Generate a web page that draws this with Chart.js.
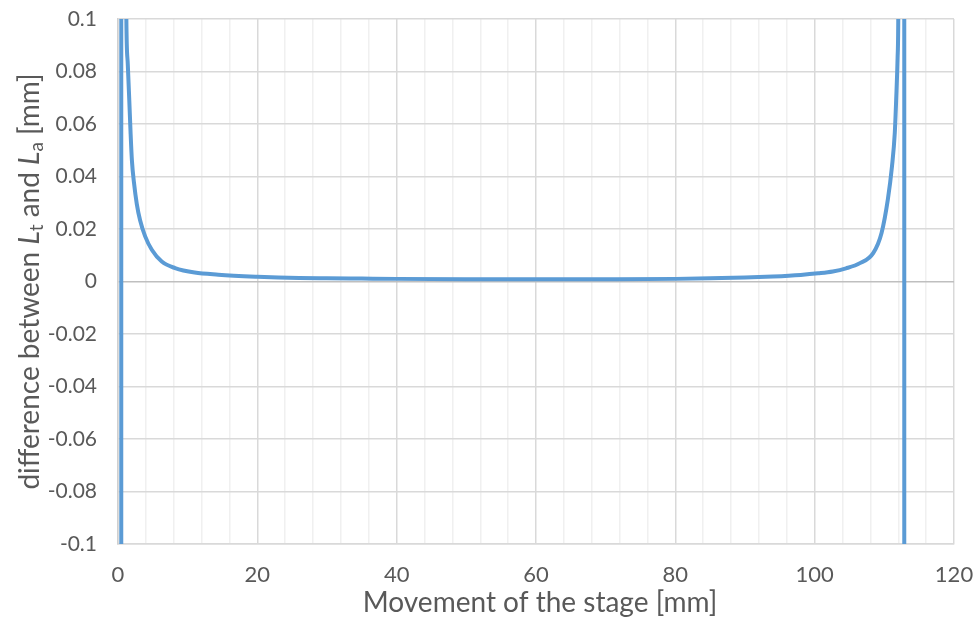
<!DOCTYPE html>
<html>
<head>
<meta charset="utf-8">
<script src="https://cdn.jsdelivr.net/npm/chart.js@4.4.1/dist/chart.umd.min.js"></script>
<style>
  html, body { margin: 0; padding: 0; background: #fff; }
  #wrap { width: 976px; height: 632px; }
</style>
</head>
<body>
<div id="wrap"><canvas id="chart" width="976" height="632"></canvas></div>
<script>
// stage position [mm] and difference between Lt and La [mm]
const stageMm = [0.46, 0.48, 0.7, 0.9, 1.2, 1.4, 1.62, 1.8, 2.0, 2.3, 2.7, 3.18, 3.9, 4.85, 6.28, 8.2,
  11, 14.4, 20, 23, 26, 30, 35, 40, 50, 60, 70, 80, 85, 90, 94, 98, 100.5, 102.6, 104.5, 106.5,
  108.4, 109.6, 110.5, 111.1, 111.5, 111.7, 111.9, 112.0, 112.3, 112.6, 112.85, 112.87];
const diffMm = [-10, 10, 0.6, 0.25, 0.1, 0.083, 0.069, 0.057, 0.046, 0.0375, 0.0295, 0.0232, 0.0172, 0.0121, 0.0076, 0.0051,
  0.0034, 0.0026, 0.0018, 0.0015, 0.0013, 0.0012, 0.0011, 0.0010, 0.0009, 0.0009, 0.0009, 0.0010, 0.0012, 0.0015, 0.0019, 0.0025, 0.0031, 0.0038, 0.0050, 0.0070,
  0.0108, 0.0185, 0.0312, 0.0439, 0.0566, 0.0693, 0.085, 0.1, 0.3, 1, 10, -10];

const xMin = 0, xMax = 120, xMinorStep = 4, xMajorStep = 20;
const yMin = -0.1, yMax = 0.1, yStep = 0.02;

const xTitle = "Movement of the stage [mm]";
// y title pieces: [text, style] with style n = normal, i = italic, s = subscript
const yTitleParts = [["difference between ", "n"], ["L", "i"], ["t", "s"], [" and ", "n"], ["L", "i"], ["a", "s"], [" [mm]", "n"]];

const textColor = "#595959";
const fontFamily = "Lato, 'Open Sans', sans-serif";

const points = stageMm.map((x, i) => ({ x: x, y: diffMm[i] }));

const titlePlugin = {
  id: "axisTitles",
  afterDraw(chart) {
    const ctx = chart.ctx;
    const area = chart.chartArea;
    ctx.save();
    ctx.fillStyle = textColor;
    ctx.textBaseline = "middle";

    // x title
    ctx.font = "28px " + fontFamily;
    ctx.textAlign = "center";
    ctx.fillText(xTitle, 540, 603);

    // y title, rotated, with italic L and subscripts
    const fonts = {
      n: "28px " + fontFamily,
      i: "italic 28px " + fontFamily,
      s: "19px " + fontFamily
    };
    let total = 0;
    yTitleParts.forEach(p => { ctx.font = fonts[p[1]]; total += ctx.measureText(p[0]).width; });
    ctx.translate(30, (area.top + area.bottom) / 2);
    ctx.rotate(-Math.PI / 2);
    ctx.textAlign = "left";
    let pos = -total / 2;
    yTitleParts.forEach(p => {
      ctx.font = fonts[p[1]];
      ctx.fillText(p[0], pos, p[1] === "s" ? 7 : 0);
      pos += ctx.measureText(p[0]).width;
    });
    ctx.restore();
  }
};

new Chart(document.getElementById("chart"), {
  type: "line",
  data: {
    datasets: [{
      data: points,
      borderColor: "#5b9bd5",
      borderWidth: 4,
      pointRadius: 0,
      fill: false,
      cubicInterpolationMode: "monotone",
      clip: 0
    }]
  },
  plugins: [titlePlugin],
  options: {
    responsive: false,
    animation: false,
    layout: { padding: { top: 19, right: 22, left: 0, bottom: 0 } },
    plugins: {
      legend: { display: false },
      tooltip: { enabled: false }
    },
    scales: {
      x: {
        type: "linear",
        min: xMin,
        max: xMax,
        afterFit: scale => {
          scale.height = 88;
          scale.paddingLeft = 0;
          scale.paddingRight = 0;
        },
        ticks: {
          stepSize: xMinorStep,
          autoSkip: false,
          maxRotation: 0,
          padding: 18,
          color: textColor,
          font: { family: fontFamily, size: 22 },
          callback: v => (v % xMajorStep === 0 ? String(v) : "")
        },
        grid: {
          drawTicks: false,
          lineWidth: 1.5,
          color: c => (c.tick && c.tick.value % xMajorStep === 0 ? "#d9d9d9" : "#f0f0f0")
        },
        border: { display: true, color: "#d9d9d9", width: 1.5 }
      },
      y: {
        min: yMin,
        max: yMax,
        afterFit: scale => {
          scale.width = 118;
          scale.paddingTop = 0;
          scale.paddingBottom = 0;
        },
        ticks: {
          stepSize: yStep,
          padding: 21,
          color: textColor,
          font: { family: fontFamily, size: 21 },
          callback: v => String(Number(v.toFixed(2)))
        },
        grid: {
          drawTicks: false,
          lineWidth: 1.5,
          color: c => (c.tick && Math.abs(c.tick.value) < 1e-9 ? "#bfbfbf" : "#d9d9d9")
        },
        border: { display: true, color: "#d0d0d0", width: 1.5 }
      }
    }
  }
});
</script>
</body>
</html>
